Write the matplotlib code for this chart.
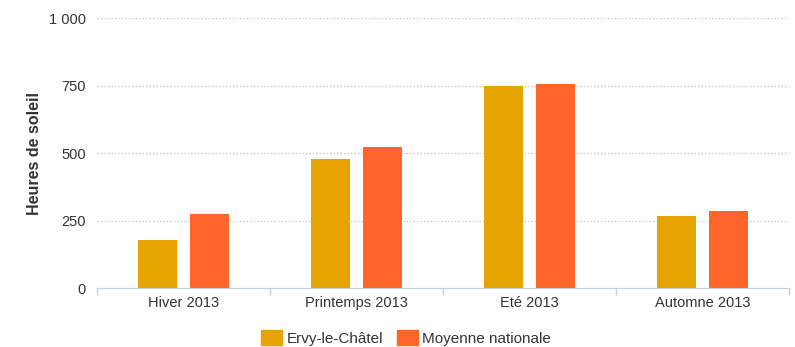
import numpy as np
import matplotlib.pyplot as plt
from matplotlib.patches import Patch

# Données
saisons = ["Hiver 2013", "Printemps 2013", "Eté 2013", "Automne 2013"]
ervy = [177, 479, 750, 266]
moyenne = [276, 522, 756, 286]

COULEUR_ERVY = "#E6A400"
COULEUR_MOY = "#FF6428"

plt.rcParams["font.family"] = ["Liberation Sans", "DejaVu Sans"]

fig = plt.figure(figsize=(7.95, 3.47), dpi=100)
ax = fig.add_axes([0.122, 0.170, 0.8705, 0.777])

x = np.arange(len(saisons))
largeur = 0.225
ax.bar(x - 0.15, ervy, width=largeur, color=COULEUR_ERVY, zorder=3)
ax.bar(x + 0.15, moyenne, width=largeur, color=COULEUR_MOY, zorder=3)

ax.set_xlim(-0.5, len(saisons) - 0.5)
ax.set_ylim(0, 1000)
ax.set_yticks([0, 250, 500, 750, 1000])
ax.set_yticklabels(["0", "250", "500", "750", "1 000"])
ax.set_xticks(x)
ax.set_xticklabels(saisons)
ax.set_xticks(np.arange(-0.5, len(saisons)), minor=True)

ax.tick_params(axis="x", which="major", length=0, labelsize=10.5, colors="#333333", pad=6)
ax.tick_params(axis="x", which="minor", length=5, color="#C0D0E0", width=1)
ax.tick_params(axis="y", length=0, labelsize=10.5, colors="#333333", pad=8)

ax.grid(axis="y", color="#C8C8C8", linestyle=(0, (1, 1.5)), linewidth=1, zorder=0)
for s in ["top", "right", "left"]:
    ax.spines[s].set_visible(False)
ax.spines["bottom"].set_color("#C0D0E0")
ax.spines["bottom"].set_zorder(4)

ax.set_ylabel("Heures de soleil", fontsize=11.5, fontweight="bold", color="#333333", labelpad=5)

poignees = [Patch(color=COULEUR_ERVY, label="Ervy-le-Châtel"),
            Patch(color=COULEUR_MOY, label="Moyenne nationale")]
fig.legend(handles=poignees, loc="center", bbox_to_anchor=(0.511, 0.027), ncol=2,
           frameon=False, fontsize=11, handlelength=1.37, handleheight=1.15,
           handletextpad=0.3, columnspacing=0.9, labelcolor="#333333")

fig.savefig("out.png", dpi=100)
